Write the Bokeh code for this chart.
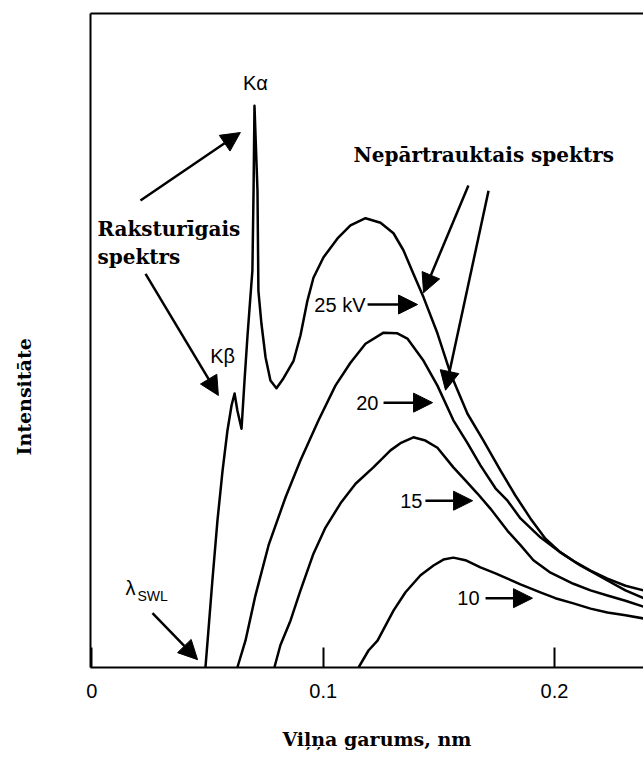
from bokeh.plotting import figure
from bokeh.models import Range1d, LinearAxis, FixedTicker, Arrow, NormalHead, Label, Title
from bokeh.embed import file_html
from bokeh.resources import INLINE

# ---- data (wavelength in nm, intensity in arbitrary units 0..100) ----
x25 = [0.0491, 0.0504, 0.0521, 0.0543, 0.0565, 0.0586, 0.0604, 0.0617, 0.0629, 0.0647,
       0.0660, 0.0673, 0.0681, 0.0694, 0.0699, 0.0703, 0.0716, 0.0720, 0.0733, 0.0751,
       0.0772, 0.0798, 0.0828, 0.0872, 0.0902, 0.0932, 0.0958, 0.1001, 0.1062, 0.1118,
       0.1183, 0.1248, 0.1304, 0.1347, 0.1390, 0.1434, 0.1494, 0.1550, 0.1624, 0.1693,
       0.1767, 0.1831, 0.1896, 0.1961, 0.2026, 0.2091, 0.2156, 0.2229, 0.2307, 0.2385]
y25 = [0, 5.7, 13.3, 22.5, 30.1, 36.2, 40.1, 41.9, 39.3, 36.5,
       43.9, 50.8, 54.6, 60.7, 72.9, 85.9, 72.9, 57.6, 52.6, 47.4,
       43.9, 42.7, 44.2, 46.9, 50.8, 56.1, 59.6, 62.7, 65.6, 67.6,
       68.7, 68.0, 66.4, 63.8, 60.2, 56.6, 51.1, 45.0, 38.8, 34.7,
       30.1, 26.3, 22.8, 19.7, 17.6, 16.1, 14.8, 13.6, 12.5, 11.8]

x20 = [0.0629, 0.0664, 0.0707, 0.0764, 0.0837, 0.0902, 0.0980, 0.1053, 0.1118, 0.1183,
       0.1261, 0.1321, 0.1364, 0.1434, 0.1494, 0.1563, 0.1624, 0.1680, 0.1745, 0.1797,
       0.1853, 0.1939, 0.2026, 0.2112, 0.2229, 0.2307, 0.2385]
y20 = [0, 4.1, 11.0, 18.7, 26.0, 31.7, 37.8, 43.1, 46.6, 49.5,
       51.2, 51.1, 50.3, 46.9, 43.1, 37.8, 34.3, 30.9, 27.4, 25.5,
       22.8, 19.9, 17.6, 15.6, 13.3, 11.8, 10.6]

x15 = [0.0789, 0.0815, 0.0859, 0.0902, 0.0958, 0.1010, 0.1075, 0.1140, 0.1217, 0.1291,
       0.1334, 0.1390, 0.1442, 0.1494, 0.1563, 0.1615, 0.1667, 0.1723, 0.1797, 0.1853,
       0.1909, 0.1983, 0.2082, 0.2156, 0.2229, 0.2307, 0.2385]
y15 = [0, 3.4, 7.2, 11.8, 17.4, 21.4, 25.1, 28.1, 30.6, 33.2,
       34.3, 35.2, 34.7, 33.6, 30.6, 28.6, 26.6, 24.3, 20.9, 18.7,
       16.4, 14.5, 12.8, 11.8, 11.0, 10.2, 9.3]

x10 = [0.1153, 0.1196, 0.1235, 0.1304, 0.1356, 0.1421, 0.1477, 0.1520, 0.1563, 0.1615,
       0.1680, 0.1745, 0.1797, 0.1853, 0.1939, 0.2004, 0.2082, 0.2156, 0.2229, 0.2307,
       0.2385]
y10 = [0, 2.6, 4.1, 8.7, 11.5, 14.1, 15.6, 16.5, 16.8, 16.4,
       15.3, 14.4, 13.6, 12.7, 11.5, 10.6, 9.8, 9.0, 8.4, 8.0,
       7.5]

x_ticks = [0, 0.1, 0.2]
x_tick_labels = {0: "0", 0.1: "0.1", 0.2: "0.2"}

SANS = "Liberation Sans"
SERIF = "DejaVu Serif"

p = figure(width=643, height=758, output_backend="svg", toolbar_location=None,
           x_range=Range1d(-0.0006, 0.2385), y_range=Range1d(0, 100),
           min_border_left=90, min_border_right=0, min_border_top=13,
           min_border_bottom=91)
p.outline_line_color = None
p.grid.visible = False
p.background_fill_color = "white"
p.border_fill_color = "white"

# bottom axis
xa = p.xaxis[0]
xa.ticker = FixedTicker(ticks=x_ticks)
xa.major_label_overrides = x_tick_labels
xa.major_tick_in = 20
xa.major_tick_out = 0
xa.major_tick_line_width = 2
xa.minor_tick_line_color = None
xa.axis_line_width = 2
xa.major_label_standoff = 16
xa.major_label_text_font = SANS
xa.major_label_text_font_size = "20px"
xa.major_label_text_color = "black"
xa.axis_label = "\u00a0\u00a0\u00a0Viļņa garums, nm"
xa.axis_label_standoff = 27
xa.axis_label_text_font = SERIF
xa.axis_label_text_font_size = "19px"
xa.axis_label_text_font_style = "bold"
xa.axis_label_text_color = "black"

# left axis: line only
ya = p.yaxis[0]
ya.ticker = FixedTicker(ticks=[])
ya.major_tick_line_color = None
ya.minor_tick_line_color = None
ya.major_label_text_font_size = "0px"
ya.major_label_standoff = 0
ya.axis_line_width = 2

# top border: axis line only
ta = LinearAxis(ticker=FixedTicker(ticks=[]), major_tick_line_color=None,
                minor_tick_line_color=None, major_label_text_font_size="0px",
                major_label_standoff=0, axis_line_width=2)
p.add_layout(ta, "above")

# empty spacer between the left axis line and the y title
p.add_layout(Title(text="\u00a0", text_font_size="1px", standoff=52), "left")
# y title
p.add_layout(Title(text="Intensitāte", align="left", offset=212, text_font=SERIF,
                   text_font_size="19px", text_font_style="bold", standoff=2,
                   text_color="black"), "left")

for xs, ys in [(x25, y25), (x20, y20), (x15, y15), (x10, y10)]:
    p.line(xs, ys, line_width=2.5, line_color="black", line_join="round")

def arrow(x0, y0, x1, y1, size=19):
    p.add_layout(Arrow(end=NormalHead(size=size, fill_color="black", line_color="black",
                                      line_width=1),
                       x_start=x0, y_start=y0, x_end=x1, y_end=y1,
                       line_width=2.5, line_color="black"))

arrow(0.0210, 71.4, 0.0642, 81.8)
arrow(0.0232, 60.2, 0.0547, 41.6)
arrow(0.0262, 8.3, 0.0457, 1.2)
arrow(0.1628, 73.7, 0.1434, 57.3)
arrow(0.1715, 72.9, 0.1529, 42.4)
arrow(0.1192, 55.5, 0.1408, 55.5)
arrow(0.1261, 40.5, 0.1473, 40.5)
arrow(0.1442, 25.5, 0.1646, 25.5)
arrow(0.1702, 10.6, 0.1905, 10.6)

def label(x, y, text, font=SANS, size="20px", style="normal", align="left",
          baseline="middle", angle=0):
    p.add_layout(Label(x=x, y=y, text=text, text_font=font, text_font_size=size,
                       text_font_style=style, text_align=align,
                       text_baseline=baseline, angle=angle, text_color="black"))

label(0.0707, 89.3, "Kα", align="center")
label(0.0565, 47.7, "Kβ", align="center")
label(0.1183, 55.5, "25 kV", align="right")
label(0.1239, 40.5, "20", align="right")
label(0.1429, 25.5, "15", align="right")
label(0.1676, 10.6, "10", align="right")
label(0.0145, 12.1, "λ", align="left")
label(0.0197, 11.0, "SWL", size="14px", align="left")

label(0.0024, 67.1, "Raksturīgais", font=SERIF, size="20px", style="bold",
      baseline="alphabetic")
label(0.0024, 62.7, "spektrs", font=SERIF, size="20px", style="bold",
      baseline="alphabetic")
label(0.1131, 78.4, "Nepārtrauktais spektrs", font=SERIF, size="20px", style="bold",
      baseline="alphabetic")

open("out.html", "w").write(file_html(p, INLINE))
